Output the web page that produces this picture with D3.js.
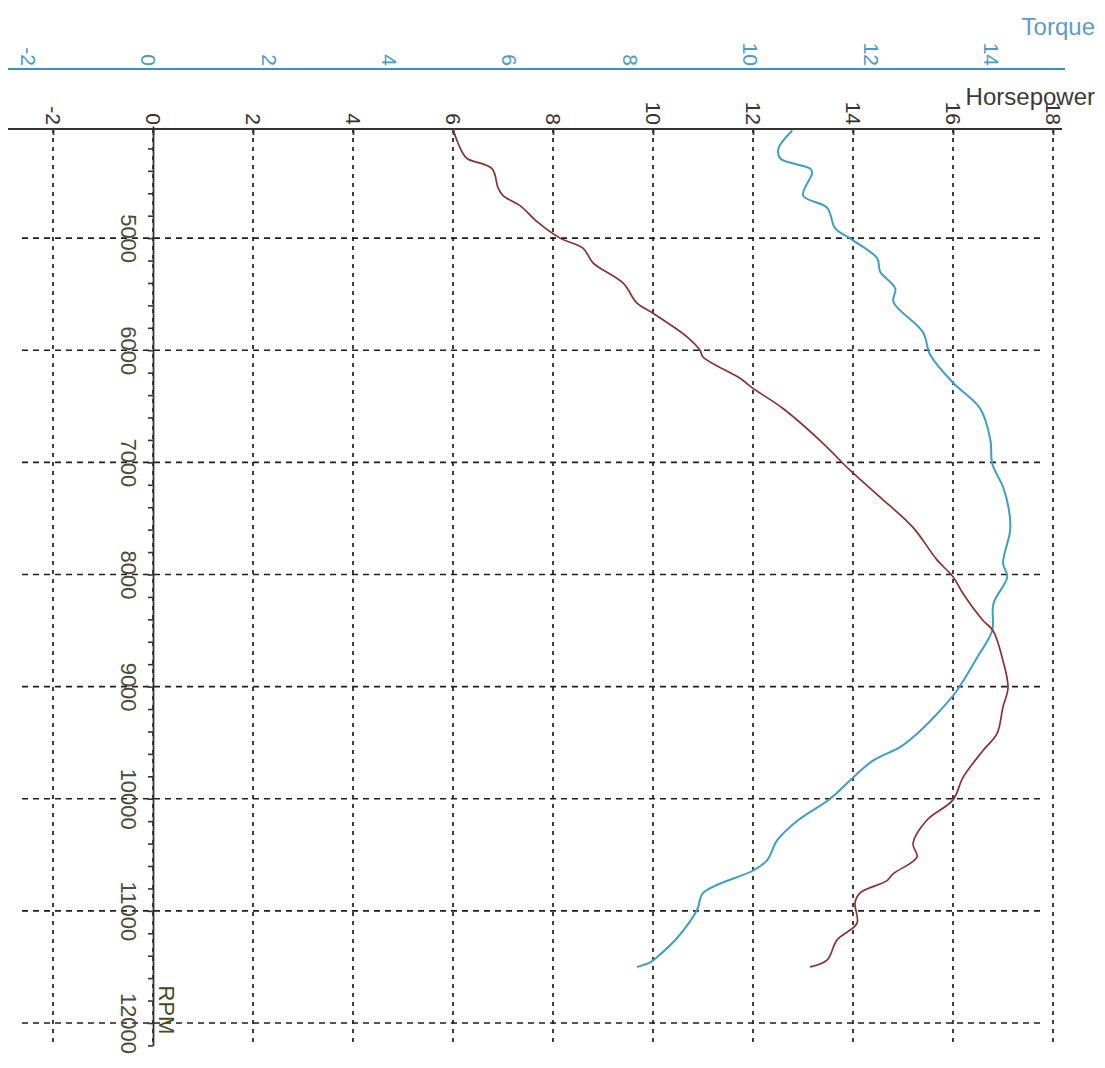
<!DOCTYPE html>
<html>
<head>
<meta charset="utf-8">
<script src="https://cdn.jsdelivr.net/npm/d3@7"></script>
<style>
  html, body { margin: 0; padding: 0; background: #fff; }
  svg { display: block; font-family: "Liberation Sans", Arial, sans-serif; }
</style>
</head>
<body>
<svg id="chart" width="1105" height="1068"></svg>
<script>
// ---- data ----
const hpTicks = [-2, 0, 2, 4, 6, 8, 10, 12, 14, 16, 18];
const torqueTicks = [-2, 0, 2, 4, 6, 8, 10, 12, 14];
const rpmGrid = [5000, 6000, 7000, 8000, 9000, 10000, 11000, 12000];

const hpRpm = [4030, 4130, 4230, 4290, 4380, 4550, 4620, 4710, 4860, 5000, 5090, 5220, 5400, 5580, 5670, 5880, 6000, 6060, 6250, 6340, 6520, 6830, 7070, 7310, 7580, 7870, 8020, 8170, 8410, 8500, 8770, 9010, 9180, 9420, 9570, 9810, 10010, 10190, 10400, 10520, 10670, 10730, 10840, 10930, 11110, 11260, 11440, 11500];
const hpValues = [6.00, 6.08, 6.18, 6.28, 6.78, 6.90, 7.00, 7.34, 7.70, 8.14, 8.60, 8.80, 9.40, 9.68, 10.00, 10.68, 10.94, 11.00, 11.74, 12.00, 12.60, 13.40, 13.94, 14.54, 15.20, 15.68, 16.00, 16.20, 16.60, 16.80, 17.00, 17.10, 17.00, 16.88, 16.60, 16.20, 16.00, 15.48, 15.20, 15.28, 14.80, 14.68, 14.14, 14.04, 14.08, 13.68, 13.48, 13.14];

const tqRpm = [4040, 4200, 4290, 4380, 4420, 4620, 4730, 4910, 5020, 5180, 5300, 5450, 5570, 5840, 6040, 6290, 6520, 6800, 7010, 7220, 7400, 7600, 7900, 8020, 8260, 8500, 8740, 9030, 9240, 9450, 9540, 9660, 9810, 10000, 10190, 10370, 10550, 10640, 10840, 10990, 11240, 11410, 11460, 11500];
const tqValues = [10.70, 10.47, 10.50, 11.00, 11.03, 10.88, 11.28, 11.41, 11.71, 12.11, 12.16, 12.41, 12.38, 12.87, 12.99, 13.37, 13.82, 13.99, 14.02, 14.20, 14.29, 14.32, 14.20, 14.27, 14.04, 14.02, 13.77, 13.44, 13.11, 12.71, 12.49, 12.04, 11.71, 11.33, 10.80, 10.45, 10.28, 10.05, 9.22, 9.12, 8.79, 8.46, 8.34, 8.12];

// ---- scales ----
const svg = d3.select("#chart");
const x = d3.scaleLinear().domain([-2, 18]).range([53, 1053]);
const xT = d3.scaleLinear().domain([0, 14]).range([148, 991]);
const y = d3.scaleLinear().domain([4000, 12200]).range([126, 1045.4]);

const hpAxisY = 129, tqAxisY = 69, rpmAxisX = 153;
const gridColor = "#1e1e1e";

// ---- grid ----
const grid = svg.append("g");
grid.selectAll("line.v").data(hpTicks).join("line")
  .attr("x1", d => x(d)).attr("x2", d => x(d))
  .attr("y1", hpAxisY).attr("y2", 1045)
  .attr("stroke", gridColor).attr("stroke-width", 1.7)
  .attr("stroke-dasharray", "4,5");
grid.selectAll("line.h").data(rpmGrid).join("line")
  .attr("x1", 22).attr("x2", 1045)
  .attr("y1", d => y(d)).attr("y2", d => y(d))
  .attr("stroke", gridColor).attr("stroke-width", 1.7)
  .attr("stroke-dasharray", "6,5");

// ---- RPM axis (vertical) ----
const rpmTicks = d3.range(4200, 12201, 200);
const rpmAxis = svg.append("g")
  .attr("transform", `translate(${rpmAxisX},0)`)
  .call(d3.axisLeft(y).tickValues(rpmTicks).tickSizeInner(5).tickSizeOuter(0)
    .tickFormat(d => d % 1000 === 0 ? d : ""));
rpmAxis.select(".domain").attr("stroke", "#333").attr("stroke-width", 1.8);
rpmAxis.selectAll(".tick line").attr("stroke", "#333").attr("stroke-width", 1.6);
rpmAxis.selectAll(".tick text")
  .attr("x", null).attr("dy", null)
  .attr("transform", "translate(-24,0) rotate(90)")
  .attr("text-anchor", "middle").attr("dy", "0.35em")
  .attr("font-size", 22).attr("fill", "#4b4b3a").attr("font-family", null);

// ---- Horsepower axis (top) ----
const hpAxis = svg.append("g")
  .attr("transform", `translate(0,${hpAxisY})`)
  .call(d3.axisTop(x).tickValues(hpTicks).tickSizeInner(-6).tickSizeOuter(0).tickFormat(d3.format("d")));
hpAxis.select(".domain").remove();
hpAxis.append("line").attr("x1", 8).attr("x2", 1062).attr("y1", 0).attr("y2", 0)
  .attr("stroke", "#333").attr("stroke-width", 2);
hpAxis.selectAll(".tick line").attr("stroke", "#333").attr("stroke-width", 1.8);
hpAxis.selectAll(".tick text")
  .attr("y", null).attr("dy", null)
  .attr("transform", "translate(0,-4) rotate(90)")
  .attr("text-anchor", "end").attr("dy", "0.35em")
  .attr("font-size", 21).attr("fill", "#333").attr("font-family", null)
  .text(d => d < 0 ? "-" + Math.abs(d) : d);

// ---- Torque axis (top, blue) ----
const tqAxis = svg.append("g")
  .attr("transform", `translate(0,${tqAxisY})`)
  .call(d3.axisTop(xT).tickValues(torqueTicks).tickSize(0).tickFormat(d3.format("d")));
tqAxis.select(".domain").remove();
tqAxis.append("line").attr("x1", 8).attr("x2", 1065).attr("y1", 0).attr("y2", 0)
  .attr("stroke", "#3c8fc2").attr("stroke-width", 2.2);
tqAxis.selectAll(".tick text")
  .attr("y", null).attr("dy", null)
  .attr("transform", "translate(0,-3) rotate(90)")
  .attr("text-anchor", "end").attr("dy", "0.35em")
  .attr("font-size", 21).attr("fill", "#4a9cc4").attr("font-family", null)
  .text(d => d < 0 ? "-" + Math.abs(d) : d);

// ---- titles ----
svg.append("text").attr("x", 1095).attr("y", 35).attr("text-anchor", "end")
  .attr("font-size", 24).attr("fill", "#5d9bc9").text("Torque");
svg.append("text").attr("x", 1095).attr("y", 105).attr("text-anchor", "end")
  .attr("font-size", 24).attr("fill", "#3a3a3a").text("Horsepower");
svg.append("text").attr("transform", "translate(167,1010) rotate(90)")
  .attr("text-anchor", "middle").attr("dy", "0.35em")
  .attr("font-size", 22).attr("fill", "#3f4a25").text("RPM");

// ---- curves ----
const hpData = hpRpm.map((r, i) => ({ r, v: hpValues[i] }));
const tqData = tqRpm.map((r, i) => ({ r, v: tqValues[i] }));
const smooth = d3.curveCatmullRom.alpha(0.5);

svg.append("path").datum(tqData)
  .attr("fill", "none").attr("stroke", "#3d9fc6").attr("stroke-width", 2)
  .attr("stroke-linejoin", "round")
  .attr("d", d3.line().curve(smooth).x(d => xT(d.v)).y(d => y(d.r)));

svg.append("path").datum(hpData)
  .attr("fill", "none").attr("stroke", "#8c3030").attr("stroke-width", 1.7)
  .attr("stroke-linejoin", "round")
  .attr("d", d3.line().curve(smooth).x(d => x(d.v)).y(d => y(d.r)));
</script>
</body>
</html>
